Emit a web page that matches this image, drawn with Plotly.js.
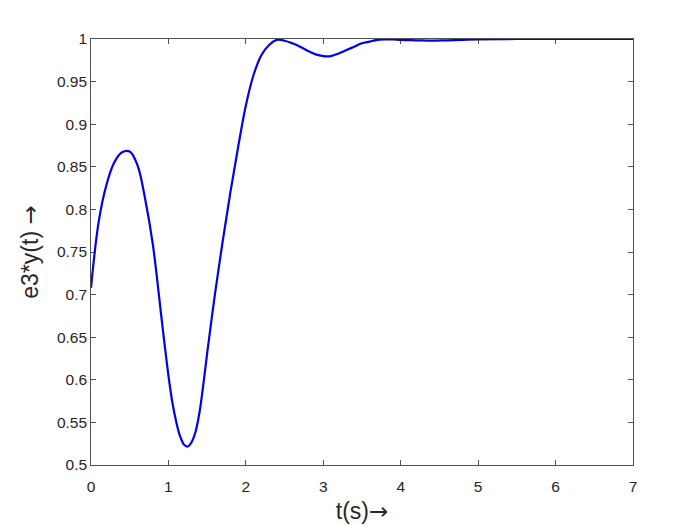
<!DOCTYPE html>
<html>
<head>
<meta charset="utf-8">
<script src="https://cdn.plot.ly/plotly-3.0.1.min.js"></script>
<style>html,body{margin:0;padding:0;background:#fff;}#chart{width:700px;height:525px;}</style>
</head>
<body>
<div id="chart"></div>
<script>
const tValues = [0, 0.1, 0.2, 0.3, 0.4, 0.5, 0.6, 0.7, 0.8, 0.9, 0.95, 1.0, 1.05, 1.1, 1.15, 1.2, 1.25, 1.3, 1.35, 1.4, 1.45, 1.5, 1.55, 1.6, 1.7, 1.8, 1.9, 2.0, 2.1, 2.2, 2.3, 2.4, 2.5, 2.6, 2.7, 2.8, 2.9, 3.0, 3.1, 3.2, 3.3, 3.4, 3.5, 3.6, 3.7, 3.8, 3.9, 4.0, 4.2, 4.4, 4.6, 4.8, 5.0, 5.5, 6.0, 6.5, 7.0];
const yValues = [0.708, 0.786, 0.829, 0.855, 0.867, 0.868, 0.852, 0.812, 0.758, 0.681, 0.642, 0.605, 0.574, 0.551, 0.534, 0.524, 0.5217, 0.527, 0.539, 0.561, 0.594, 0.631, 0.666, 0.700, 0.762, 0.820, 0.873, 0.922, 0.958, 0.981, 0.993, 0.999, 0.998, 0.995, 0.991, 0.986, 0.982, 0.980, 0.980, 0.983, 0.987, 0.991, 0.995, 0.997, 0.999, 0.9995, 0.9995, 0.999, 0.9985, 0.998, 0.9985, 0.999, 0.9995, 1.0, 1.0, 1.0, 1.0];
const xTicks = [0, 1, 2, 3, 4, 5, 6, 7];
const yTicks = [0.5, 0.55, 0.6, 0.65, 0.7, 0.75, 0.8, 0.85, 0.9, 0.95, 1];
const yTickLabels = ['0.5', '0.55', '0.6', '0.65', '0.7', '0.75', '0.8', '0.85', '0.9', '0.95', '1'];

const FONT = 'Liberation Sans, Arial, sans-serif';
const ARROW = '<span style="font-family:DejaVu Sans">→</span>';

const trace = {
  x: tValues, y: yValues, type: 'scatter', mode: 'lines',
  line: {color: 'rgb(0,0,235)', width: 2.2, shape: 'spline', smoothing: 1},
  hoverinfo: 'none'
};
const axisCommon = {
  showgrid: false, zeroline: false, showline: true, linecolor: '#262626', linewidth: 0.8,
  mirror: 'ticks', ticks: 'inside', ticklen: 5, tickwidth: 0.8, tickcolor: '#262626',
  tickfont: {family: FONT, size: 15.5, color: '#262626'}, automargin: false
};
const layout = {
  width: 700, height: 525,
  margin: {l: 91, r: 67, t: 39, b: 60},
  paper_bgcolor: '#fff', plot_bgcolor: '#fff',
  showlegend: false,
  xaxis: Object.assign({}, axisCommon, {
    range: [0, 7], tickvals: xTicks, ticktext: xTicks.map(String), ticklabelstandoff: 8,
    title: {text: 't(s)' + ARROW, font: {family: FONT, size: 23, color: '#262626'}, standoff: 8}
  }),
  yaxis: Object.assign({}, axisCommon, {
    range: [0.5, 1], tickvals: yTicks, ticktext: yTickLabels,
    title: {text: 'e3*y(t) ' + ARROW, font: {family: FONT, size: 23, color: '#262626'}, standoff: 11}
  })
};
Plotly.newPlot('chart', [trace], layout, {displayModeBar: false, staticPlot: true});
</script>
</body>
</html>
